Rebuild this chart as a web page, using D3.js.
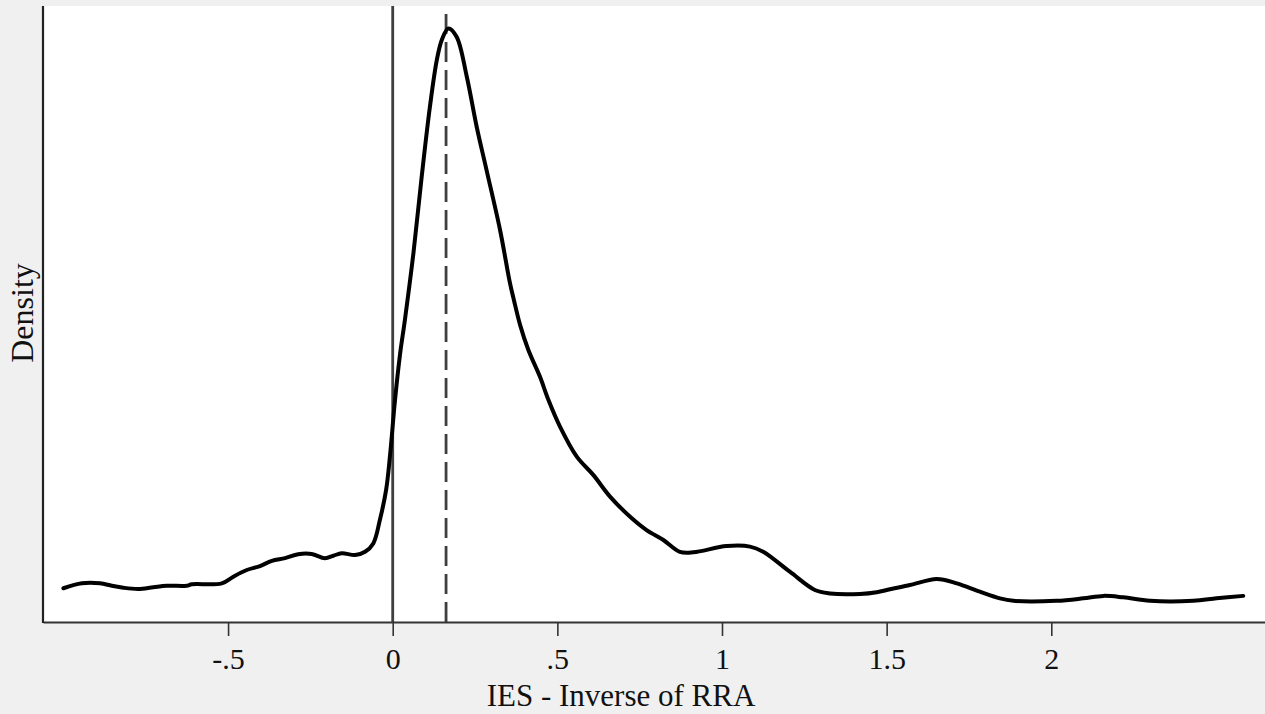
<!DOCTYPE html>
<html>
<head>
<meta charset="utf-8">
<script src="https://cdn.jsdelivr.net/npm/d3@7"></script>
<style>
  body { margin: 0; background: #f0f0f0; }
  svg { display: block; }
  .axisText { font-family: "Liberation Serif", "Times New Roman", serif; font-size: 30px; fill: #111; }
</style>
</head>
<body>
<div id="chart"></div>
<script>
// kernel density of IES
var iesX = [-1.000, -0.944, -0.889, -0.853, -0.818, -0.773, -0.727, -0.686, -0.626, -0.610,
  -0.519, -0.484, -0.443, -0.403, -0.367, -0.327, -0.287, -0.246, -0.206, -0.180,
  -0.155, -0.114, -0.084, -0.059, -0.039, -0.020, -0.008, 0.007, 0.022, 0.037,
  0.063, 0.088, 0.113, 0.134, 0.149, 0.169, 0.194, 0.225, 0.255, 0.285,
  0.326, 0.356, 0.368, 0.387, 0.412, 0.447, 0.473, 0.508, 0.559, 0.609,
  0.660, 0.721, 0.771, 0.822, 0.872, 0.913, 1.014, 1.085, 1.125, 1.207,
  1.282, 1.328, 1.419, 1.470, 1.510, 1.571, 1.652, 1.713, 1.783, 1.844,
  1.885, 2.016, 2.097, 2.158, 2.219, 2.300, 2.431, 2.502, 2.583];
var densityY = [0.137, 0.157, 0.157, 0.147, 0.139, 0.134, 0.141, 0.147, 0.147, 0.153,
  0.157, 0.184, 0.211, 0.227, 0.248, 0.259, 0.275, 0.276, 0.259, 0.269,
  0.279, 0.272, 0.285, 0.319, 0.414, 0.536, 0.678, 0.901, 1.084, 1.226,
  1.498, 1.807, 2.091, 2.281, 2.362, 2.409, 2.375, 2.213, 2.010, 1.834,
  1.591, 1.376, 1.307, 1.205, 1.104, 0.996, 0.901, 0.793, 0.671, 0.597,
  0.509, 0.427, 0.373, 0.333, 0.285, 0.283, 0.308, 0.306, 0.285, 0.203,
  0.130, 0.116, 0.114, 0.121, 0.133, 0.150, 0.175, 0.157, 0.123, 0.096,
  0.086, 0.086, 0.096, 0.106, 0.100, 0.086, 0.086, 0.096, 0.106];

var tickValues = [-0.5, 0, 0.5, 1, 1.5, 2];
var tickLabels = ["-.5", "0", ".5", "1", "1.5", "2"];

var zeroLine = 0;
var meanLine = 0.162;

var svgWidth = 1265;
var svgHeight = 714;
var margin = { top: 6, right: 0, bottom: 92, left: 43 };
var width = svgWidth - margin.left - margin.right;
var height = svgHeight - margin.top - margin.bottom;

var svg = d3.select("#chart")
  .append("svg")
  .attr("width", svgWidth)
  .attr("height", svgHeight);

var chartGroup = svg.append("g")
  .attr("transform", `translate(${margin.left}, ${margin.top})`);

// plot region
chartGroup.append("rect")
  .attr("width", width)
  .attr("height", height)
  .attr("fill", "#ffffff");

var xLinearScale = d3.scaleLinear()
  .domain([-1.062, 2.649])
  .range([0, width]);

var yLinearScale = d3.scaleLinear()
  .domain([0, 2.5])
  .range([height, 0]);

// reference lines
chartGroup.append("line")
  .attr("x1", xLinearScale(zeroLine))
  .attr("x2", xLinearScale(zeroLine))
  .attr("y1", height)
  .attr("y2", 0)
  .attr("stroke", "#3f3f3f")
  .attr("stroke-width", 2.8);

chartGroup.append("line")
  .attr("x1", xLinearScale(meanLine))
  .attr("x2", xLinearScale(meanLine))
  .attr("y1", height)
  .attr("y2", 0)
  .attr("stroke", "#3f3f3f")
  .attr("stroke-width", 2.8)
  .attr("stroke-dasharray", "20,8");

// density curve
var points = iesX.map((x, i) => [x, densityY[i]]);
var line = d3.line()
  .x(d => xLinearScale(d[0]))
  .y(d => yLinearScale(d[1]))
  .curve(d3.curveCatmullRom.alpha(0.5));

chartGroup.append("path")
  .datum(points)
  .attr("d", line)
  .attr("fill", "none")
  .attr("stroke", "#000")
  .attr("stroke-width", 4)
  .attr("stroke-linejoin", "round")
  .attr("stroke-linecap", "round");

// axes
var bottomAxis = d3.axisBottom(xLinearScale)
  .tickValues(tickValues)
  .tickFormat((d, i) => tickLabels[i])
  .tickSize(14)
  .tickSizeOuter(0)
  .tickPadding(12);

var xAxis = chartGroup.append("g")
  .attr("transform", `translate(0, ${height})`)
  .call(bottomAxis);
xAxis.select(".domain").attr("stroke", "#333").attr("stroke-width", 2.2);
xAxis.selectAll(".tick line").attr("stroke", "#333").attr("stroke-width", 1.6);
xAxis.selectAll(".tick text")
  .attr("class", "axisText")
  .attr("fill", "#111");

chartGroup.append("line")
  .attr("x1", 0)
  .attr("x2", 0)
  .attr("y1", 0)
  .attr("y2", height + 1)
  .attr("stroke", "#222")
  .attr("stroke-width", 2.2);

// axis titles
chartGroup.append("text")
  .attr("transform", `translate(${-10}, ${307}) rotate(-90)`)
  .attr("text-anchor", "middle")
  .attr("class", "axisText")
  .style("font-size", "32px")
  .text("Density");

chartGroup.append("text")
  .attr("x", 578)
  .attr("y", height + 84)
  .attr("text-anchor", "middle")
  .attr("class", "axisText")
  .style("font-size", "31px")
  .text("IES - Inverse of RRA");
</script>
</body>
</html>
